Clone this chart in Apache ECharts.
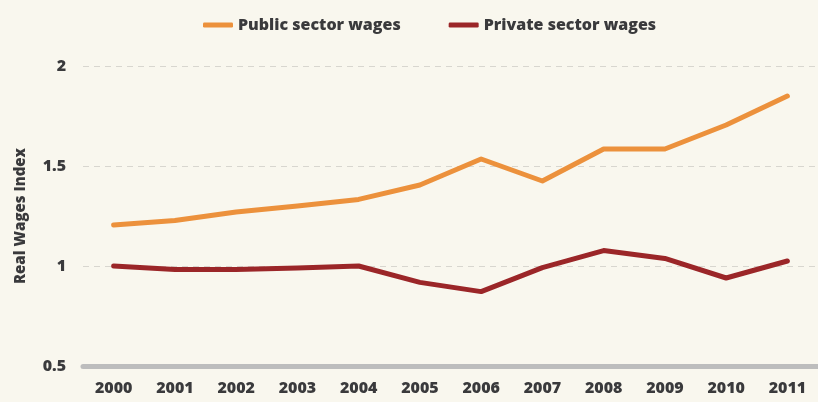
<!DOCTYPE html>
<html><head><meta charset="utf-8">
<script src="https://cdn.jsdelivr.net/npm/echarts@6/dist/echarts.min.js"></script>
<style>html,body{margin:0;padding:0;background:#f9f7ee;}#c{width:818px;height:402px;}</style>
</head><body><div id="c"></div>
<script>
const years = ['2000','2001','2002','2003','2004','2005','2006','2007','2008','2009','2010','2011'];
const publicWages = [1.205, 1.227, 1.27, 1.30, 1.333, 1.405, 1.535, 1.425, 1.585, 1.585, 1.705, 1.85];
const privateWages = [1.0, 0.983, 0.983, 0.99, 1.0, 0.918, 0.872, 0.992, 1.077, 1.038, 0.94, 1.025];
const seriesNames = ['Public sector wages', 'Private sector wages'];
const yTicks = [0.5, 1, 1.5, 2];

const font = '"Open Sans", "DejaVu Sans", sans-serif';
const txt = '#3a3a3c';
const chart = echarts.init(document.getElementById('c'));
chart.setOption({
  backgroundColor: '#f9f7ee',
  animation: false,
  legend: {
    top: 12, left: 198, itemGap: 48, itemWidth: 30, itemHeight: 5,
    icon: 'roundRect',
    textStyle: {fontFamily: font, fontWeight: 800, fontSize: 16, color: txt},
    data: seriesNames
  },
  grid: {left: 83, right: 0, top: 66, bottom: 36},
  xAxis: {
    type: 'category', data: years, boundaryGap: true,
    axisLine: {lineStyle: {color: '#bdbdbd', width: 5}},
    axisTick: {show: false},
    axisLabel: {margin: 14, fontFamily: font, fontWeight: 800, fontSize: 16, color: txt}
  },
  yAxis: {
    type: 'value', min: 0.5, max: 2, interval: 0.5,
    name: 'Real Wages Index', nameLocation: 'middle', nameGap: 55, nameRotate: 90,
    nameTextStyle: {fontFamily: font, fontWeight: 800, fontSize: 15, color: txt},
    axisLine: {show: false}, axisTick: {show: false},
    axisLabel: {margin: 17, align: 'right', fontFamily: font, fontWeight: 800, fontSize: 16, color: txt,
      formatter: v => yTicks.includes(v) ? String(v) : ''},
    splitLine: {lineStyle: {color: '#d8d6cf', type: [6, 5], width: 1}}
  },
  series: [
    {name: seriesNames[0], type: 'line', data: publicWages, symbol: 'none',
     itemStyle: {color: '#ec913c'}, lineStyle: {color: '#ec913c', width: 5, cap: 'round', join: 'round'}},
    {name: seriesNames[1], type: 'line', data: privateWages, symbol: 'none',
     itemStyle: {color: '#9b2628'}, lineStyle: {color: '#9b2628', width: 5, cap: 'round', join: 'round'}}
  ]
});
</script></body></html>
